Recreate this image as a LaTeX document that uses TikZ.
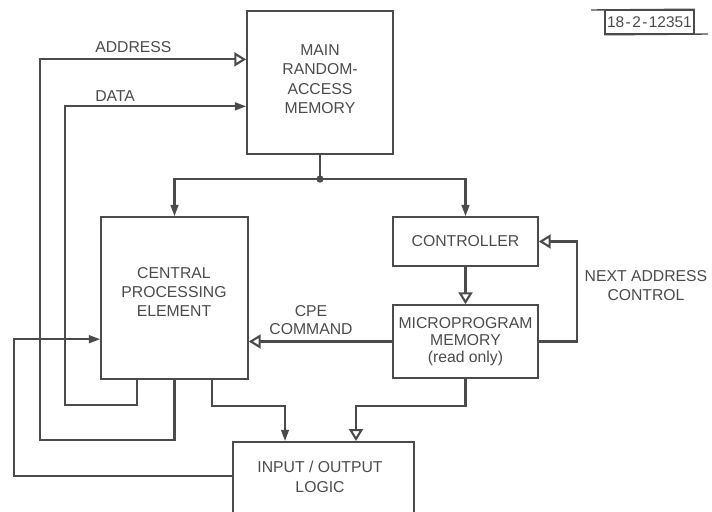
\documentclass[tikz,border=0pt]{standalone}
\usepackage{fontspec}
\setmainfont{Liberation Sans}
\usepackage{tikz}
\usetikzlibrary{arrows.meta, positioning, calc}
\definecolor{ink}{RGB}{75,75,75}
\tikzstyle{box} = [draw=ink, line width=1.1pt, inner sep=0pt]
\tikzstyle{txt} = [text=ink, inner sep=0pt, font=\fontsize{11.2}{13.8}\selectfont]
\tikzstyle{wire} = [draw=ink, line width=1.5pt]
\tikzstyle{openarrow} = [wire, -{Triangle[open,length=8.5pt,width=10pt]}]
\tikzstyle{fillarrow} = [wire, -{Triangle[length=8pt,width=5.5pt]}]

\begin{document}
\begin{tikzpicture}[x=0.025cm, y=-0.025cm, every text node part/.style={align=center}]
    \clip (0,0) rectangle (712,512);

    % --- main memory node
    \node[box, minimum width=3.65cm, minimum height=3.575cm] (mem) at (320,82.5) {};
    \node[txt] (memtext) at (320,79) {MAIN\\RANDOM-\\ACCESS\\MEMORY};
    % --- central processing element node
    \node[box, minimum width=3.675cm, minimum height=4.05cm] (cpe) at (174.5,298) {};
    \node[txt] (cpetext) at (174,292) {CENTRAL\\PROCESSING\\ELEMENT};
    % --- controller node
    \node[box, txt, minimum width=3.625cm, minimum height=1.225cm] (ctrl) at (465.5,241.5) {CONTROLLER};
    % --- microprogram memory node
    \node[box, txt, font=\fontsize{11.2}{12.2}\selectfont, minimum width=3.625cm, minimum height=1.825cm] (micro) at (465.5,341.5) {MICROPROGRAM\\MEMORY\\(read only)};
    % --- input / output node
    \node[box, anchor=north west, minimum width=4.525cm, minimum height=2.1cm] (io) at (232,441) {};
    \node[txt] (iotext) at (320,477) {INPUT / OUTPUT\\LOGIC};

    % --- drawing number
    \node[box, txt, font=\fontsize{11}{12}\selectfont, minimum width=2.225cm, minimum height=0.6cm] (tag) at (649.5,22) {18\kern1pt-\kern1pt2\kern1pt-\kern1pt12351};
    \coordinate (tagl) at (591,10);
    \coordinate (tagr) at (708,34);
    \draw[ink, line width=1pt] (tagl) -- (tag.north east);
    \draw[ink, line width=1pt] (tag.south west) -- (tagr);

    % --- memory output
    \coordinate (jn) at (320,179);
    \draw[wire] (mem.south) -- (jn);
    \fill[ink] (jn) circle (2.6pt);
    \draw[fillarrow] (jn) -| (cpe.north);
    \draw[fillarrow] (jn) -| (ctrl.north);

    % --- controller / microprogram
    \draw[openarrow] (ctrl) -- (micro);
    \draw[openarrow] (micro.east) -- ++(38,0) |- (ctrl.east);
    \node[txt] (nextlbl) at (646,285.5) {NEXT ADDRESS\\CONTROL};
    \draw[openarrow] (micro.west) -- (micro.west -| cpe.east);
    \node[txt, font=\fontsize{11.2}{12.4}\selectfont] (cmdlbl) at (311,320) {CPE\\COMMAND};

    % --- address and data busses
    \coordinate (addrb) at (40,440);
    \coordinate (datab) at (65,405);
    \draw[openarrow] (cpe.south) |- (addrb) |- ($(mem.north west)!0.34!(mem.south west)$);
    \draw[fillarrow] ($(cpe.south west)!0.25!(cpe.south east)$) |- (datab) |- ($(mem.north west)!0.665!(mem.south west)$);
    \node[txt, anchor=west] (addrlbl) at (95,47.5) {ADDRESS};
    \node[txt, anchor=west] (datalbl) at (95,96) {DATA};

    % --- input / output links
    \draw[fillarrow] ($(cpe.south west)!0.75!(cpe.south east)$) -- ++(0,26) -| ($(io.north west)+(53,0)$);
    \draw[openarrow] (micro.south) -- ++(0,27) -| ($(io.north west)+(124,0)$);
    \coordinate (iob) at (14,476);
    \draw[fillarrow] ($(io.north west)+(0,35)$) -- (iob) |- ($(cpe.north west)+(0,123)$);

\end{tikzpicture}
\end{document}
